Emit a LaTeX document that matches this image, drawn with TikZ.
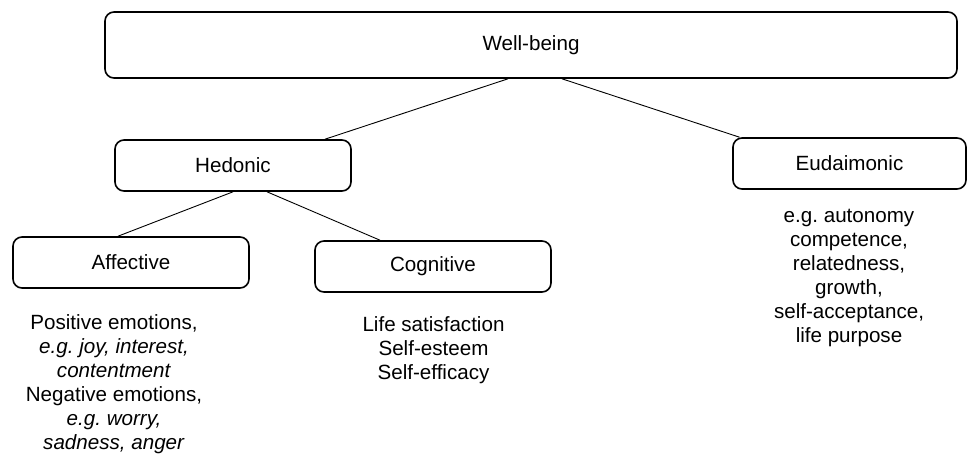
\documentclass[tikz,border=0pt]{standalone}
\usepackage{fontspec}
\setmainfont{Liberation Sans}
\usetikzlibrary{positioning}
\frenchspacing

\begin{document}
\begin{tikzpicture}[
		x=1pt, y=-1pt,
		every node/.style={font=\fontsize{20.6}{24}\selectfont},
		block/.style={
			draw,
			line width=1.6pt,
			rounded corners=9pt,
			align=center,
			minimum height=51pt,
			minimum width=236pt
		},
		examples/.style={
			align=center,
			anchor=north,
			inner sep=0pt
		},
		link/.style={line width=0.9pt}
		]
		
		\useasboundingbox (0,0) rectangle (967,453);
		
		% Blocks
		\node[block, minimum width=852pt, minimum height=66pt] at (531,45) (wellbeing) {Well-being};
		\node[block] at (233,165.5) (hedonic) {Hedonic};
		\node[block, minimum width=233pt] at (849.5,163.5) (eudaimonic) {Eudaimonic};
		\node[block] at (131,262.5) (affective) {Affective};
		\node[block] at (433,266.5) (cognitive) {Cognitive};
		
		% Examples
		\node[examples] at (114,314) (affex) {Positive emotions,\\
			\textit{e.g. joy, interest,}\\
			\textit{contentment}\\
			Negative emotions,\\
			\textit{e.g. worry,}\\
			\textit{sadness, anger}};
		\node[examples] at (433.5,316) (cogex) {Life satisfaction\\Self-esteem\\Self-efficacy};
		\node[examples] at (849,209) (eudex) {e.g. autonomy\\competence,\\relatedness,\\growth,\\self-acceptance,\\life purpose};
		
		% Lines
		\draw[link] ([xshift=-23pt]wellbeing.south) -- ([xshift=92pt]hedonic.north);
		\draw[link] ([xshift=31pt]wellbeing.south) -- ([xshift=-110pt]eudaimonic.north);
		\draw[link] (hedonic.south) -- ([xshift=-13pt]affective.north);
		\draw[link] ([xshift=34pt]hedonic.south) -- ([xshift=-53pt]cognitive.north);
		
	\end{tikzpicture}
\end{document}
